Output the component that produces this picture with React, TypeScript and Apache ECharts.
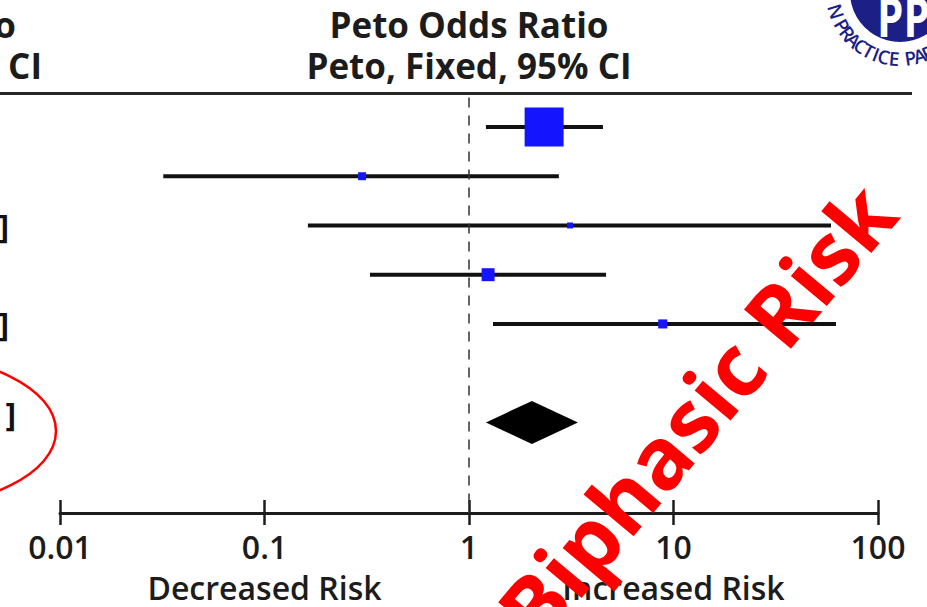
import React, { useEffect, useRef } from "react";
import * as echarts from "echarts";

// Per-study Peto odds ratios with 95% CI and weight (%)
const studyLower = [1.21, 0.032, 0.163, 0.328, 1.31];
const studyUpper = [4.52, 2.75, 58.9, 4.68, 62.3];
const studyOR = [2.33, 0.3, 3.12, 1.24, 8.86];
const studyWeight = [81.3, 3.4, 1.9, 9.0, 4.4];
const studyRow = [0, 1, 2, 3, 4];

// Pooled estimate (fixed effect)
const totalOR = [2.03];
const totalLower = [1.21];
const totalUpper = [3.41];
const totalRow = [6];

// Axis ticks
const tickValues = [0.01, 0.1, 1, 10, 100];
const tickLabels = ["0.01", "0.1", "1", "10", "100"];

// Rows whose CI text reaches into view (only the closing bracket shows)
const bracketRows = [2, 4];
const bracketTotalRow = 6;

const headerTitle = "Peto Odds Ratio";
const headerSub = "Peto, Fixed, 95% CI";
const leftLabel = "Decreased Risk";
const rightLabel = "Increased Risk";
const stampText = "Biphasic Risk";
const ringText = "N PRACTICE PAR";

const FONT = "'Open Sans', 'DejaVu Sans', sans-serif";
const INK = "#1c1c1c";
const NAVY = "#1b1f86";

export default function App() {
  const ref = useRef<HTMLDivElement | null>(null);

  useEffect(() => {
    if (!ref.current) return;
    const chart = echarts.init(ref.current, undefined, { renderer: "svg" });

    const labelFor = (v: number) => {
      for (let i = 0; i < tickValues.length; i++) {
        if (Math.abs(Math.log10(v) - Math.log10(tickValues[i])) < 1e-6) return tickLabels[i];
      }
      return "";
    };

    const sideScale = 39 / Math.sqrt(Math.max(...studyWeight));

    const studyData = studyRow.map((r, i) => [
      studyLower[i],
      studyUpper[i],
      studyOR[i],
      r,
      studyWeight[i],
    ]);
    const totalData = totalRow.map((r, i) => [totalLower[i], totalUpper[i], totalOR[i], r]);

    const xBase = {
      type: "log" as const,
      logBase: 10,
      min: 0.01,
      max: 100,
      gridIndex: 0,
      position: "bottom" as const,
      splitLine: { show: false },
      minorTick: { show: false },
    };

    chart.setOption({
      animation: false,
      backgroundColor: "#ffffff",
      grid: { left: 60, right: 49, top: 97.45, bottom: 94, containLabel: false },
      xAxis: [
        {
          ...xBase,
          axisLine: { show: true, onZero: false, lineStyle: { color: INK, width: 3 } },
          axisTick: { show: true, length: 12, lineStyle: { color: INK, width: 2.5 } },
          axisLabel: {
            show: true,
            margin: 17,
            fontSize: 32,
            fontFamily: FONT,
            fontWeight: 600,
            color: INK,
            formatter: (v: number) => labelFor(v),
          },
        },
        {
          ...xBase,
          axisLine: { show: false, onZero: false },
          axisTick: { show: true, inside: true, length: 13, lineStyle: { color: INK, width: 2.5 } },
          axisLabel: { show: false },
        },
      ],
      yAxis: { type: "value", inverse: true, min: -0.6, max: 7.84, show: false },
      series: [
        {
          type: "custom",
          xAxisIndex: 0,
          data: studyData,
          encode: { x: [0, 1, 2], y: 3 },
          renderItem: (_p: any, api: any) => {
            const row = api.value(3);
            const lo = api.coord([api.value(0), row]);
            const hi = api.coord([api.value(1), row]);
            const pt = api.coord([api.value(2), row]);
            const side = sideScale * Math.sqrt(api.value(4));
            return {
              type: "group",
              children: [
                {
                  type: "line",
                  shape: { x1: lo[0], y1: lo[1], x2: hi[0], y2: hi[1] },
                  style: { stroke: "#111111", lineWidth: 4 },
                },
                {
                  type: "rect",
                  shape: { x: pt[0] - side / 2, y: pt[1] - side / 2, width: side, height: side },
                  style: { fill: "#1414ff" },
                },
              ],
            };
          },
          markLine: {
            silent: true,
            symbol: "none",
            label: { show: false },
            lineStyle: { color: "#333333", width: 1.5, type: [10, 8] },
            data: [{ xAxis: 1 }],
          },
        },
        {
          type: "custom",
          xAxisIndex: 0,
          data: totalData,
          encode: { x: [0, 1, 2], y: 3 },
          renderItem: (_p: any, api: any) => {
            const row = api.value(3);
            const lo = api.coord([api.value(0), row]);
            const hi = api.coord([api.value(1), row]);
            const pt = api.coord([api.value(2), row]);
            const h = 21.5;
            return {
              type: "polygon",
              shape: {
                points: [
                  [lo[0], lo[1]],
                  [pt[0], pt[1] - h],
                  [hi[0], hi[1]],
                  [pt[0], pt[1] + h],
                ],
              },
              style: { fill: "#000000" },
            };
          },
        },
      ],
    });

    const px = (x: number, y: number) =>
      chart.convertToPixel({ xAxisIndex: 0, yAxisIndex: 0 } as any, [x, y]) as number[];
    const centerX = (px(0.01, 0)[0] + px(100, 0)[0]) / 2;
    const axisY = px(1, 7.84)[1];

    // curved ring lettering of the badge
    const ringCx = 900;
    const ringCy = -8;
    const ringR = 67;
    const ringAngles = [163, 156.5, 150, 142, 134, 126, 118, 111, 104, 95, 88, 81, 73, 65];
    const ringLetters = ringText.split("").map((ch, i) => {
      const a = (ringAngles[i] * Math.PI) / 180;
      return {
        type: "text",
        x: ringCx + ringR * Math.cos(a),
        y: ringCy + ringR * Math.sin(a),
        rotation: ((90 - ringAngles[i]) * Math.PI) / 180,
        style: {
          text: ch,
          fill: NAVY,
          font: `600 19px ${FONT}`,
          align: "center",
          verticalAlign: "middle",
        },
        z: 50,
      };
    });

    const brackets = bracketRows.map((r) => ({
      type: "text",
      x: 9,
      y: px(1, r)[1],
      style: { text: "]", fill: "#111111", font: `bold 32px ${FONT}`, align: "right", verticalAlign: "middle" },
      z: 20,
    }));

    chart.setOption({
      graphic: [
        // header rule
        {
          type: "line",
          shape: { x1: 0, y1: 93.5, x2: 912, y2: 93.5 },
          style: { stroke: "#262626", lineWidth: 3 },
        },
        {
          type: "text",
          x: centerX,
          y: 24,
          style: { text: headerTitle, fill: INK, font: `bold 35px ${FONT}`, lineHeight: 36, align: "center", verticalAlign: "middle" },
        },
        {
          type: "text",
          x: centerX,
          y: 65,
          style: { text: headerSub, fill: INK, font: `bold 35px ${FONT}`, lineHeight: 36, align: "center", verticalAlign: "middle" },
        },
        // neighbouring column header
        {
          type: "text",
          x: 16,
          y: 24,
          style: { text: headerTitle, fill: INK, font: `bold 35px ${FONT}`, lineHeight: 36, align: "right", verticalAlign: "middle" },
        },
        {
          type: "text",
          x: 42,
          y: 65,
          style: { text: headerSub, fill: INK, font: `bold 35px ${FONT}`, lineHeight: 36, align: "right", verticalAlign: "middle" },
        },
        ...brackets,
        {
          type: "text",
          x: 16,
          y: px(1, bracketTotalRow)[1] - 9,
          style: { text: "]", fill: "#111111", font: `bold 32px ${FONT}`, align: "right", verticalAlign: "middle" },
          z: 20,
        },
        // direction labels under the axis
        {
          type: "text",
          x: px(0.1, 0)[0],
          y: axisY + 74,
          style: { text: leftLabel, fill: INK, font: `600 32px ${FONT}`, lineHeight: 34, align: "center", verticalAlign: "middle" },
        },
        {
          type: "text",
          x: px(10, 0)[0],
          y: axisY + 74,
          style: { text: rightLabel, fill: INK, font: `600 32px ${FONT}`, lineHeight: 34, align: "center", verticalAlign: "middle" },
        },
        // red ring around the pooled row
        {
          type: "ellipse",
          shape: { cx: -100, cy: 431, rx: 156, ry: 77 },
          style: { fill: "none", stroke: "#ff0000", lineWidth: 2.5 },
          z: 60,
        },
        // badge
        {
          type: "circle",
          shape: { cx: ringCx, cy: ringCy, r: 50 },
          style: { fill: NAVY },
          z: 50,
        },
        {
          type: "text",
          x: 877,
          y: 16,
          scaleX: 0.78,
          style: { text: "PP", fill: "#ffffff", font: `bold 54px ${FONT}`, align: "left", verticalAlign: "middle" },
          z: 51,
        },
        ...ringLetters,
        // diagonal stamp
        {
          type: "text",
          x: 695,
          y: 411,
          rotation: (50 * Math.PI) / 180,
          style: {
            text: stampText,
            fill: "#ff0000",
            font: `bold 86px ${FONT}`,
            align: "center",
            verticalAlign: "middle",
          },
          z: 100,
        },
      ],
    });

    return () => chart.dispose();
  }, []);

  return (
    <div
      ref={ref}
      style={{ position: "absolute", left: 0, top: 0, width: 927, height: 607, overflow: "hidden" }}
    />
  );
}
